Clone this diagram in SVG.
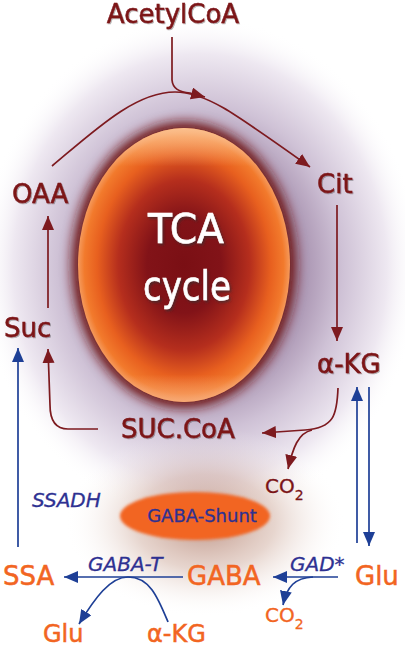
<svg xmlns="http://www.w3.org/2000/svg" width="405" height="649" viewBox="0 0 405 649">
<defs>
  <radialGradient id="glow" cx="0.5" cy="0.5" r="0.5">
    <stop offset="0" stop-color="#8a6a8c"/>
    <stop offset="0.45" stop-color="#a690ae"/>
    <stop offset="0.65" stop-color="#cfc2d6"/>
    <stop offset="0.85" stop-color="#eee8f1"/>
    <stop offset="1" stop-color="#ffffff" stop-opacity="0"/>
  </radialGradient>
  <radialGradient id="brown" cx="0.5" cy="0.5" r="0.5">
    <stop offset="0" stop-color="#a8705e" stop-opacity="0.75"/>
    <stop offset="0.5" stop-color="#c9a292" stop-opacity="0.45"/>
    <stop offset="1" stop-color="#ffffff" stop-opacity="0"/>
  </radialGradient>
  <radialGradient id="tca" cx="0.5" cy="0.5" r="0.5">
    <stop offset="0" stop-color="#7a0f14"/>
    <stop offset="0.35" stop-color="#821318"/>
    <stop offset="0.62" stop-color="#b52e1d"/>
    <stop offset="0.82" stop-color="#e8601f"/>
    <stop offset="0.94" stop-color="#f27a2c"/>
    <stop offset="1" stop-color="#f59a5c"/>
  </radialGradient>
  <linearGradient id="hl" x1="0" y1="0" x2="0" y2="1">
    <stop offset="0" stop-color="#fcc493" stop-opacity="0.9"/>
    <stop offset="0.14" stop-color="#fcc493" stop-opacity="0"/>
    <stop offset="0.9" stop-color="#f8b080" stop-opacity="0"/>
    <stop offset="1" stop-color="#f8b080" stop-opacity="0.7"/>
  </linearGradient>
  <filter id="blur8" x="-20%" y="-20%" width="140%" height="140%">
    <feGaussianBlur stdDeviation="6"/>
  </filter>
  <filter id="blur2" x="-10%" y="-20%" width="120%" height="140%">
    <feGaussianBlur stdDeviation="1.5"/>
  </filter>
  <filter id="sh" x="-10%" y="-10%" width="130%" height="140%">
    <feDropShadow dx="1" dy="1" stdDeviation="0.6" flood-color="#000" flood-opacity="0.3"/>
  </filter>
  <filter id="sh2" x="-10%" y="-10%" width="130%" height="140%">
    <feDropShadow dx="1.5" dy="2" stdDeviation="0.8" flood-color="#333" flood-opacity="0.6"/>
  </filter>
  <marker id="ar" markerUnits="userSpaceOnUse" markerWidth="16" markerHeight="14" refX="14" refY="6" orient="auto">
    <path d="M0,0 L14,6 L0,12 z" fill="#7d1a1f"/>
  </marker>
  <marker id="ab" markerUnits="userSpaceOnUse" markerWidth="16" markerHeight="14" refX="14" refY="6" orient="auto">
    <path d="M0,0 L14,6 L0,12 z" fill="#1e3f96"/>
  </marker>
  <style>
    text { font-family: "DejaVu Sans", "Liberation Sans", sans-serif; }
    .red { fill: #7b1416; stroke: #7b1416; stroke-width: 0.5; font-size: 26px; }
    .org { fill: #f26522; stroke: #f26522; stroke-width: 0.5; font-size: 26px; }
    .blu { fill: #2e3192; stroke: #2e3192; stroke-width: 0.3; font-size: 20px; font-style: italic; }
    .cr { fill: none; stroke: #7d1a1f; stroke-width: 1.7; }
    .cb { fill: none; stroke: #1e3f96; stroke-width: 1.7; }
  </style>
</defs>

<rect width="405" height="649" fill="#ffffff"/>
<ellipse cx="200" cy="268" rx="220" ry="252" fill="url(#glow)"/>
<ellipse cx="205" cy="522" rx="140" ry="95" fill="url(#brown)"/>

<g id="tca-cycle">
  <ellipse cx="184" cy="265" rx="112" ry="143" fill="#6e1616" filter="url(#blur8)"/>
  <ellipse cx="184" cy="265" rx="106" ry="137" fill="url(#tca)"/>
  <ellipse cx="184" cy="265" rx="106" ry="137" fill="url(#hl)"/>
  <text x="186" y="243" fill="#ffffff" stroke="#ffffff" stroke-width="0.6" font-size="40" text-anchor="middle" textLength="76" lengthAdjust="spacingAndGlyphs" filter="url(#sh2)">TCA</text>
  <text x="187" y="300" fill="#ffffff" stroke="#ffffff" stroke-width="0.6" font-size="40" text-anchor="middle" textLength="88" lengthAdjust="spacingAndGlyphs" filter="url(#sh2)">cycle</text>
</g>

<g id="gaba-shunt">
  <ellipse cx="195" cy="516" rx="75" ry="24" fill="#f26522" filter="url(#blur2)"/>
  <text x="202" y="522" fill="#2e3192" stroke="#2e3192" stroke-width="0.3" font-size="18" text-anchor="middle">GABA-Shunt</text>
</g>

<g id="connectors">
  <path class="cr" d="M172,37 L172,80 Q173,92 190,93 L205,97" marker-end="url(#ar)"/>
  <path class="cr" d="M52,166 C95,130 135,92 175,92 C205,92 230,110 310,167" marker-end="url(#ar)"/>
  <path class="cr" d="M337,205 L337,341" marker-end="url(#ar)"/>
  <path class="cr" d="M338,388 C337,415 334,428 305,430 L262,433" marker-end="url(#ar)"/>
  <path class="cr" d="M312,430 C298,433 293,448 288,469" marker-end="url(#ar)"/>
  <path class="cr" d="M98,429 L68,429 Q50,429 50,405 L48,349" marker-end="url(#ar)"/>
  <path class="cr" d="M48,308 L48,216" marker-end="url(#ar)"/>
  <path class="cb" d="M18,547 L18,348" marker-end="url(#ab)"/>
  <path class="cb" d="M357,543 L357,387" marker-end="url(#ab)"/>
  <path class="cb" d="M369,387 L369,546" marker-end="url(#ab)"/>
  <path class="cb" d="M183,577 L64,577" marker-end="url(#ab)"/>
  <path class="cb" d="M168,622 C158,598 150,577 128,577 C110,577 95,598 79,624" marker-end="url(#ab)"/>
  <path class="cb" d="M338,577 L273,577" marker-end="url(#ab)"/>
  <path class="cb" d="M313,577 C295,578 287,586 283,605" marker-end="url(#ab)"/>
</g>

<g id="AcetylCoA"><text class="red" x="173" y="23" text-anchor="middle" filter="url(#sh)">AcetylCoA</text></g>
<g id="OAA"><text class="red" x="12" y="203" filter="url(#sh)">OAA</text></g>
<g id="Cit"><text class="red" x="317" y="193" filter="url(#sh)">Cit</text></g>
<g id="Suc"><text class="red" x="4" y="337" filter="url(#sh)">Suc</text></g>
<g id="aKG"><text class="red" x="317" y="373" filter="url(#sh)">α-KG</text></g>
<g id="SUCCoA"><text class="red" x="121" y="438" filter="url(#sh)">SUC.CoA</text></g>
<g id="CO2-red"><text fill="#7b1416" stroke="#7b1416" stroke-width="0.3" font-size="20" x="265" y="493">CO<tspan font-size="14" dy="7">2</tspan></text></g>
<g id="SSADH"><text class="blu" x="32" y="507">SSADH</text></g>
<g id="SSA"><text class="org" x="3" y="585">SSA</text></g>
<g id="GABA"><text class="org" x="187" y="585">GABA</text></g>
<g id="Glu-right"><text class="org" x="355" y="585">Glu</text></g>
<g id="GABA-T"><text class="blu" x="88" y="571">GABA-T</text></g>
<g id="GAD"><text class="blu" x="290" y="571">GAD*</text></g>
<g id="CO2-orange"><text fill="#f26522" stroke="#f26522" stroke-width="0.3" font-size="20" x="265" y="622">CO<tspan font-size="14" dy="7">2</tspan></text></g>
<g id="Glu-bottom"><text class="org" x="43" y="642" style="font-size:24px">Glu</text></g>
<g id="aKG-bottom"><text class="org" x="147" y="642" style="font-size:24px">α-KG</text></g>
</svg>
